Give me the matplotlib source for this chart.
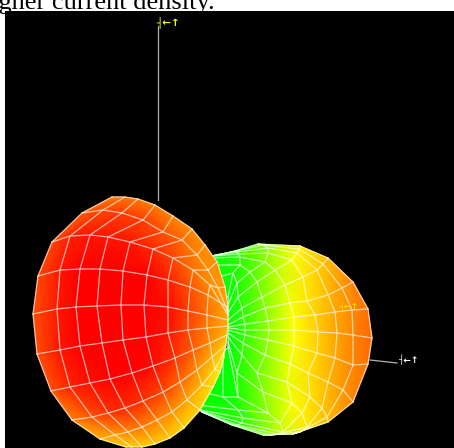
#!/usr/bin/env python3

from matplotlib import pyplot as plt
from matplotlib.colors import LinearSegmentedColormap
import numpy as np

# front lobe vertices: (x, y) px, one row per grid line
front_lobe = [
    [(112, 197), (125, 197), (138, 199), (155, 205), (173, 216), (192, 229), (205, 245), (217, 262), (225, 287), (228, 307)],
    [(82, 213), (103, 210), (122, 213), (143, 220), (163, 232), (182, 240), (197, 255), (208, 270), (218, 288), (228, 312)],
    [(52, 242), (70, 236), (90, 235), (108, 237), (130, 242), (153, 249), (173, 258), (193, 270), (210, 285), (228, 315)],
    [(38, 276), (60, 270), (80, 269), (100, 269), (123, 271), (147, 275), (168, 280), (190, 287), (208, 295), (227, 307)],
    [(33, 314), (57, 309), (76, 307), (97, 306), (121, 305), (144, 305), (168, 307), (188, 311), (207, 315), (228, 320)],
    [(37, 354), (60, 350), (80, 346), (102, 343), (123, 340), (146, 337), (168, 333), (188, 330), (207, 328), (228, 326)],
    [(51, 391), (70, 387), (90, 383), (110, 379), (132, 373), (153, 366), (175, 358), (193, 350), (210, 343), (227, 335)],
    [(72, 420), (92, 417), (108, 413), (125, 408), (143, 401), (163, 392), (180, 382), (197, 370), (212, 357), (226, 345)],
    [(100, 439), (115, 435), (128, 432), (142, 427), (157, 420), (172, 412), (187, 400), (202, 385), (215, 369), (224, 353)],
    [(126, 447), (132, 447), (142, 447), (155, 444), (170, 438), (184, 428), (200, 410), (213, 387), (220, 372), (224, 357)],
]
front_values = [
    [.76, .78, .76, .76, .74, .72, .72, .72, .70, .70],
    [.84, .86, .88, .88, .84, .80, .74, .72, .70, .68],
    [.86, .94, .96, .96, .96, .92, .86, .78, .72, .68],
    [.86, .96, 1.0, 1.0, 1.0, 1.0, .94, .84, .76, .68],
    [.84, .95, 1.0, 1.0, 1.0, 1.0, .98, .88, .78, .66],
    [.85, .96, 1.0, 1.0, 1.0, 1.0, .96, .86, .76, .66],
    [.84, .93, .97, 1.0, 1.0, .98, .90, .82, .72, .64],
    [.74, .84, .90, .92, .90, .86, .80, .72, .66, .60],
    [.66, .70, .74, .76, .74, .72, .68, .64, .58, .56],
    [.60, .60, .60, .60, .60, .58, .58, .56, .54, .54],
]

# back lobe vertices: one row per spoke from the hub out to the rim (px)
back_lobe = [
    [(210, 300), (208, 280), (210, 265), (212, 258), (213, 256), (215, 255), (217, 255), (217, 255)],
    [(228, 297), (233, 273), (240, 265), (240, 257), (238, 254), (237, 252), (236, 251), (235, 251)],
    [(228, 305), (237, 283), (250, 272), (265, 262), (268, 253), (268, 248), (263, 245), (258, 244)],
    [(228, 313), (238, 297), (257, 282), (275, 270), (292, 260), (297, 253), (299, 249), (300, 246)],
    [(228, 320), (242, 308), (262, 297), (285, 285), (303, 277), (317, 270), (323, 264), (328, 258)],
    [(228, 325), (243, 317), (265, 308), (290, 303), (307, 301), (328, 295), (342, 288), (353, 282)],
    [(228, 327), (245, 324), (268, 321), (294, 317), (315, 315), (335, 312), (352, 310), (368, 309)],
    [(228, 328), (245, 330), (269, 330), (294, 330), (318, 332), (337, 333), (353, 335), (372, 338)],
    [(228, 330), (245, 335), (268, 340), (294, 346), (317, 353), (335, 358), (353, 365), (368, 364)],
    [(228, 333), (243, 343), (265, 355), (290, 364), (308, 373), (328, 382), (343, 390), (353, 402)],
    [(228, 337), (242, 355), (257, 373), (287, 382), (310, 397), (322, 408), (327, 417), (328, 422)],
    [(228, 342), (237, 373), (263, 392), (292, 403), (302, 413), (307, 427), (300, 432), (293, 434)],
    [(228, 347), (238, 397), (268, 413), (280, 423), (283, 432), (278, 434), (270, 435), (263, 435)],
    [(223, 353), (223, 397), (238, 410), (243, 418), (242, 423), (237, 425), (233, 425), (232, 425)],
    [(200, 350), (195, 390), (198, 405), (200, 410), (201, 411), (202, 412), (202, 412), (202, 412)],
]
back_values = [
    [.00, .01, .00, .00, .00, .02, .04, .04],
    [.00, .04, .08, .08, .07, .06, .05, .05],
    [.00, .05, .14, .26, .29, .29, .25, .22],
    [.00, .06, .20, .35, .48, .51, .52, .52],
    [.00, .08, .24, .43, .54, .59, .62, .64],
    [.00, .09, .26, .47, .55, .64, .70, .74],
    [.00, .10, .29, .50, .59, .67, .73, .78],
    [.00, .10, .29, .50, .60, .68, .74, .80],
    [.00, .10, .29, .50, .59, .67, .74, .78],
    [.00, .09, .26, .47, .56, .64, .70, .74],
    [.00, .08, .20, .45, .56, .61, .63, .64],
    [.00, .05, .25, .49, .53, .55, .52, .50],
    [.00, .06, .29, .39, .42, .38, .30, .25],
    [.00, .00, .06, .09, .08, .05, .03, .02],
    [.00, .00, .00, .00, .00, .00, .00, .00],
]

axis_lines = [
    [(158, 26), (158, 200)],
    [(370, 360), (397, 363)],
]
axis_labels = [
    (156, 22, '┤←↑', '#ffff20', 7.5),
    (398, 360, '┤←↑', '#ffffff', 6.5),
    (339, 306, '┤←↑', '#ffe000', 6),
]
caption = 'higher current density.'

cmap = LinearSegmentedColormap.from_list('lobe', ['#00ff00', '#ffff00', '#ff0000'])

fig = plt.figure(figsize=(4.54, 4.48), dpi=100)
ax = fig.add_axes([0, 0, 1, 1])
ax.set_xlim(0, 454)
ax.set_ylim(448, 0)
ax.axis('off')

ax.text(-22, 9, caption, family='Liberation Serif', fontsize=19, color='black', zorder=1)
ax.fill_between([5, 454], 11, 448, color='black', lw=0, zorder=2)


def draw_lobe(verts, values, zorder):
    verts = np.array(verts, dtype=float)
    x, y = verts[..., 0], verts[..., 1]
    ax.pcolormesh(x, y, np.array(values), shading='gouraud', cmap=cmap, vmin=0, vmax=1, zorder=zorder)
    ax.plot(x, y, color='#ffffff', lw=0.9, alpha=0.65, zorder=zorder + 0.1)
    ax.plot(x.T, y.T, color='#ffffff', lw=0.9, alpha=0.65, zorder=zorder + 0.1)


for line in axis_lines:
    ax.plot(*zip(*line), color='#b0b0b0', lw=0.9, zorder=3)

draw_lobe(back_lobe, back_values, 4)
draw_lobe(front_lobe, front_values, 6)

for x, y, label, color, size in axis_labels:
    ax.text(x, y, label, color=color, fontsize=size, fontweight='bold', va='center', ha='left', zorder=8)

fig.savefig('out.png', dpi=100)
